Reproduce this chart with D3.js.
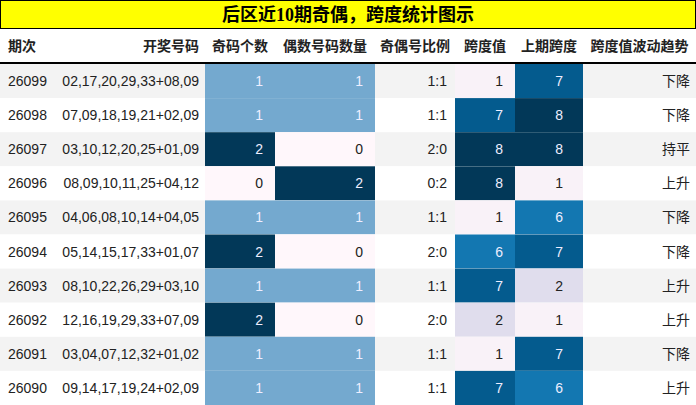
<!DOCTYPE html><html><head><meta charset="utf-8"><script src="https://cdn.jsdelivr.net/npm/d3@7"></script>
<style>body{margin:0;background:#fff}</style></head><body><svg id="c" width="696" height="405"></svg><script>
const title="后区近10期奇偶，跨度统计图示";
const headers=["期次","开奖号码","奇码个数","偶数号码数量","奇偶号比例","跨度值","上期跨度","跨度值波动趋势"];
const periods=["26099","26098","26097","26096","26095","26094","26093","26092","26091","26090"];
const numbers=["02,17,20,29,33+08,09","07,09,18,19,21+02,09","03,10,12,20,25+01,09","08,09,10,11,25+04,12","04,06,08,10,14+04,05","05,14,15,17,33+01,07","08,10,22,26,29+03,10","12,16,19,29,33+07,09","03,04,07,12,32+01,02","09,14,17,19,24+02,09"];
const oddCount=[1,1,2,0,1,2,1,2,1,1];
const evenCount=[1,1,0,2,1,0,1,0,1,1];
const ratio=["1:1","1:1","2:0","0:2","1:1","2:0","1:1","2:0","1:1","1:1"];
const span=[1,7,8,8,1,6,7,2,1,7];
const prevSpan=[7,8,8,1,6,7,2,1,7,6];
const trend=["下降","下降","持平","上升","下降","下降","上升","上升","下降","上升"];

const svg=d3.select("#c");
const font="'Liberation Sans','Noto Sans CJK SC',sans-serif";
const hfont="'Noto Sans CJK SC',sans-serif";
const edges=[0,57,205,275,375,455,515,583,696];
const y=d3.scaleBand().domain(d3.range(10)).range([64,405]);
const cnt=d3.scaleLinear().domain([0,1,2]).range(["#fff7fb","#74a9cf","#023858"]);
const sp=d3.scaleSequential(d3.interpolatePuBu).domain([0.7,8]);
svg.append("rect").attr("x",0.5).attr("y",0.5).attr("width",695).attr("height",28).attr("fill","#ffff00").attr("stroke","#000");
svg.append("text").attr("x",348).attr("y",21).attr("text-anchor","middle").attr("font-family","'Liberation Serif','Noto Sans CJK SC',serif").attr("font-weight","bold").attr("font-size",18).text(title);
headers.forEach((h,i)=>{
  const right=i===1;
  svg.append("text").attr("x",right?edges[2]-6:(i===0?edges[0]+8:(edges[i]+edges[i+1])/2)).attr("y",51)
   .attr("text-anchor",right?"end":(i===0?"start":"middle")).attr("font-family",hfont).attr("font-weight","bold").attr("font-size",14).attr("fill","#222").text(h);
});
svg.append("line").attr("x1",0).attr("x2",696).attr("y1",63).attr("y2",63).attr("stroke","#000").attr("stroke-width",2);
const rows=svg.selectAll("g.r").data(d3.range(10)).join("g").attr("transform",d=>`translate(0,${y(d)})`);
rows.append("rect").attr("width",696).attr("height",y.bandwidth()).attr("fill",d=>d%2===0?"#f3f3f3":"#fff");
function cell(col,colorFn,val,isLight){
  rows.append("rect").attr("x",edges[col]).attr("width",edges[col+1]-edges[col]).attr("height",y.bandwidth()).attr("fill",d=>colorFn(d));
  rows.append("text").attr("x",edges[col+1]-(col===6?20:12)).attr("y",y.bandwidth()/2+5).attr("text-anchor","end").attr("font-family",font).attr("font-size",14)
    .attr("fill",d=>isLight(d)?"#222":"#eef").text(d=>val(d));
}
const txt=(x,anchor,fn)=>rows.append("text").attr("x",x).attr("y",y.bandwidth()/2+5).attr("text-anchor",anchor).attr("font-family",font).attr("font-size",14).attr("fill","#222").text(fn);
txt(8,"start",d=>periods[d]);
txt(edges[2]-6,"end",d=>numbers[d]);
cell(2,d=>cnt(oddCount[d]),d=>oddCount[d],d=>oddCount[d]===0);
cell(3,d=>cnt(evenCount[d]),d=>evenCount[d],d=>evenCount[d]===0);
txt(edges[5]-8,"end",d=>ratio[d]);
cell(5,d=>sp(span[d]),d=>span[d],d=>span[d]<=2);
cell(6,d=>sp(prevSpan[d]),d=>prevSpan[d],d=>prevSpan[d]<=2);
txt(690,"end",d=>trend[d]);
</script></body></html>
